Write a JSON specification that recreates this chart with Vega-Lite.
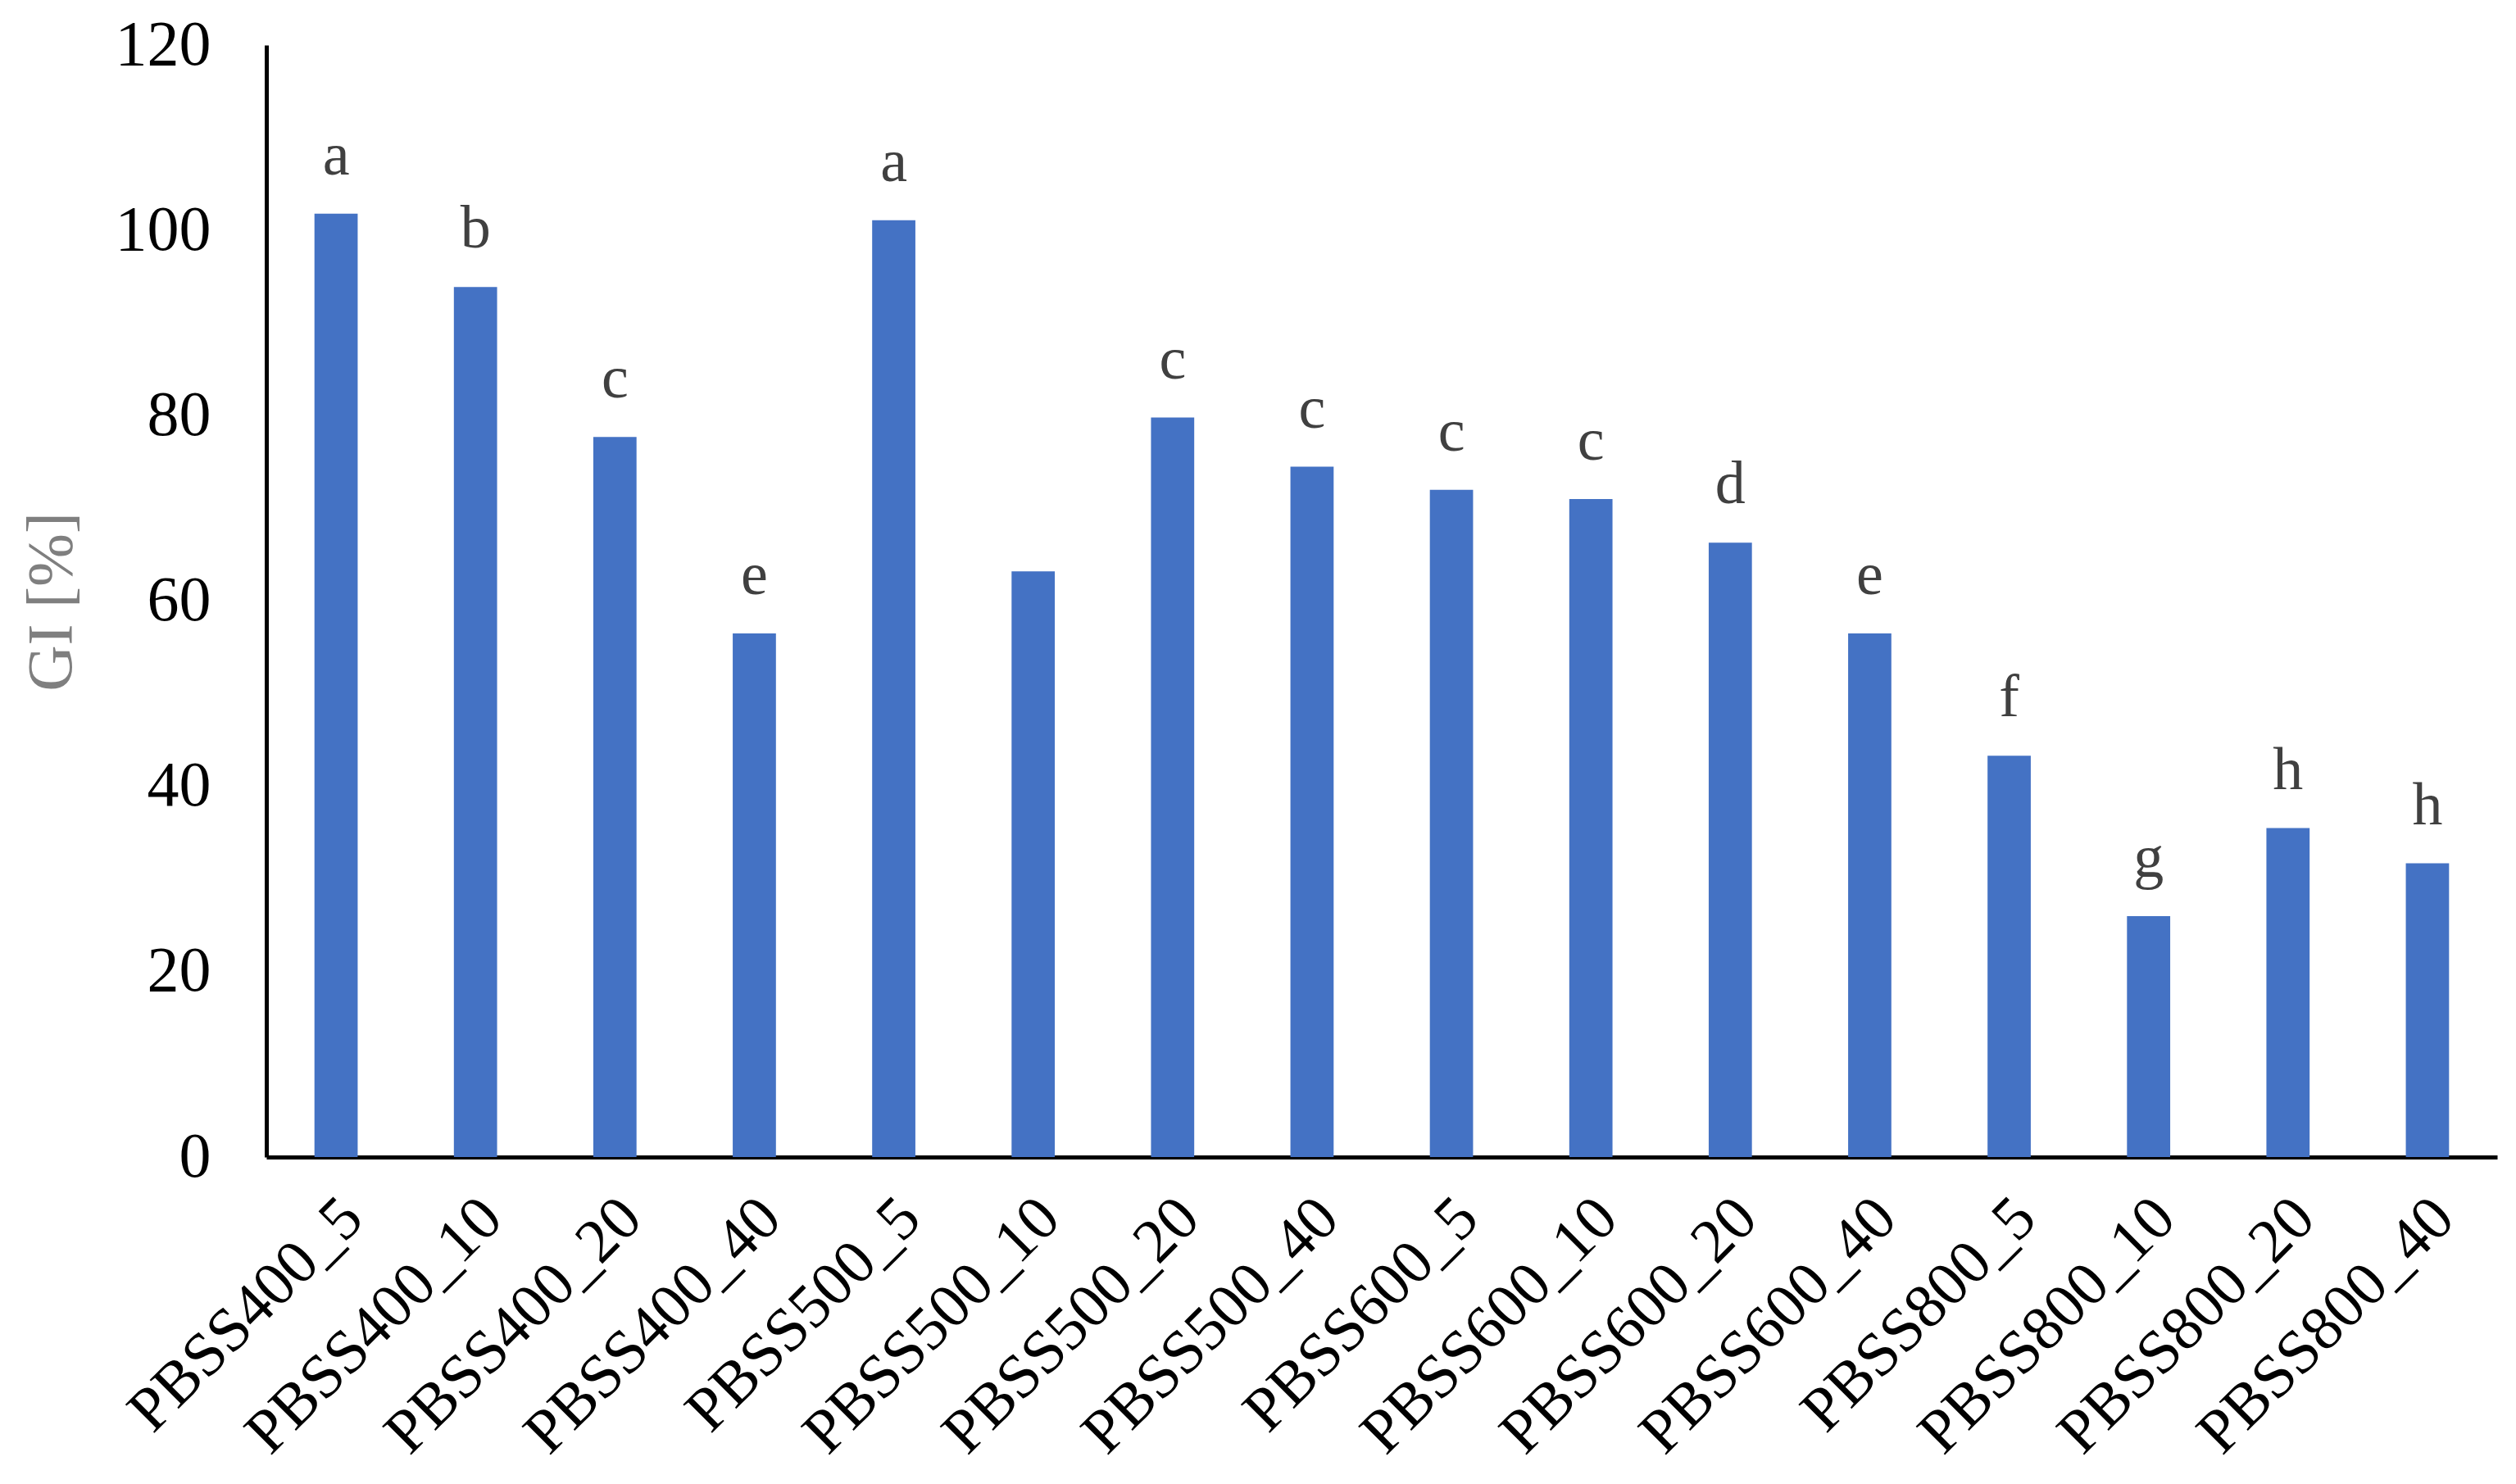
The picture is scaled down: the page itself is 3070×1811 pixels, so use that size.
{
  "$schema": "https://vega.github.io/schema/vega-lite/v6.json",
  "autosize": {"type": "none"},
  "width": 2722,
  "height": 1357,
  "padding": {"left": 325, "top": 55, "right": 23, "bottom": 399},
  "background": "white",
  "config": {
    "view": {"stroke": null},
    "font": "Liberation Serif"
  },
  "data": {
    "values": [
      {"sample": "PBSS400_5", "GI": 101.8, "group": "a"},
      {"sample": "PBSS400_10", "GI": 93.9, "group": "b"},
      {"sample": "PBSS400_20", "GI": 77.7, "group": "c"},
      {"sample": "PBSS400_40", "GI": 56.5, "group": "e"},
      {"sample": "PBSS500_5", "GI": 101.1, "group": "a"},
      {"sample": "PBSS500_10", "GI": 63.2, "group": ""},
      {"sample": "PBSS500_20", "GI": 79.8, "group": "c"},
      {"sample": "PBSS500_40", "GI": 74.5, "group": "c"},
      {"sample": "PBSS600_5", "GI": 72.0, "group": "c"},
      {"sample": "PBSS600_10", "GI": 71.0, "group": "c"},
      {"sample": "PBSS600_20", "GI": 66.3, "group": "d"},
      {"sample": "PBSS600_40", "GI": 56.5, "group": "e"},
      {"sample": "PBSS800_5", "GI": 43.3, "group": "f"},
      {"sample": "PBSS800_10", "GI": 26.0, "group": "g"},
      {"sample": "PBSS800_20", "GI": 35.5, "group": "h"},
      {"sample": "PBSS800_40", "GI": 31.7, "group": "h"}
    ]
  },
  "encoding": {
    "x": {
      "field": "sample",
      "type": "nominal",
      "sort": null,
      "scale": {"paddingInner": 0, "paddingOuter": 0},
      "axis": {
        "title": null,
        "labelAngle": -45,
        "labelAlign": "right",
        "labelBaseline": "middle",
        "labelFont": "Liberation Serif",
        "labelFontSize": 76,
        "labelColor": "black",
        "labelPadding": 62,
        "labelOffset": 20,
        "labelLimit": 0,
        "ticks": false,
        "domainColor": "black",
        "domainWidth": 5,
        "labelOverlap": false
      }
    },
    "y": {
      "field": "GI",
      "type": "quantitative",
      "scale": {"domain": [0, 120], "nice": false},
      "axis": {
        "title": "GI [%]",
        "values": [0, 20, 40, 60, 80, 100, 120],
        "grid": false,
        "ticks": false,
        "domainColor": "black",
        "domainWidth": 5,
        "labelFont": "Liberation Serif",
        "labelFontSize": 78,
        "labelColor": "black",
        "labelPadding": 68,
        "titleFont": "Liberation Serif",
        "titleFontSize": 78,
        "titleFontWeight": "normal",
        "titleColor": "#7f7f7f",
        "titleAngle": -90,
        "titleX": -262,
        "titleY": 679,
        "titleAlign": "center",
        "titleBaseline": "middle"
      }
    }
  },
  "layer": [
    {
      "mark": {"type": "bar", "color": "#4472C4", "width": {"band": 0.31}}
    },
    {
      "mark": {
        "type": "text",
        "baseline": "alphabetic",
        "dy": -48,
        "font": "Liberation Serif",
        "fontSize": 74,
        "color": "#404040"
      },
      "encoding": {"text": {"field": "group"}}
    }
  ]
}
